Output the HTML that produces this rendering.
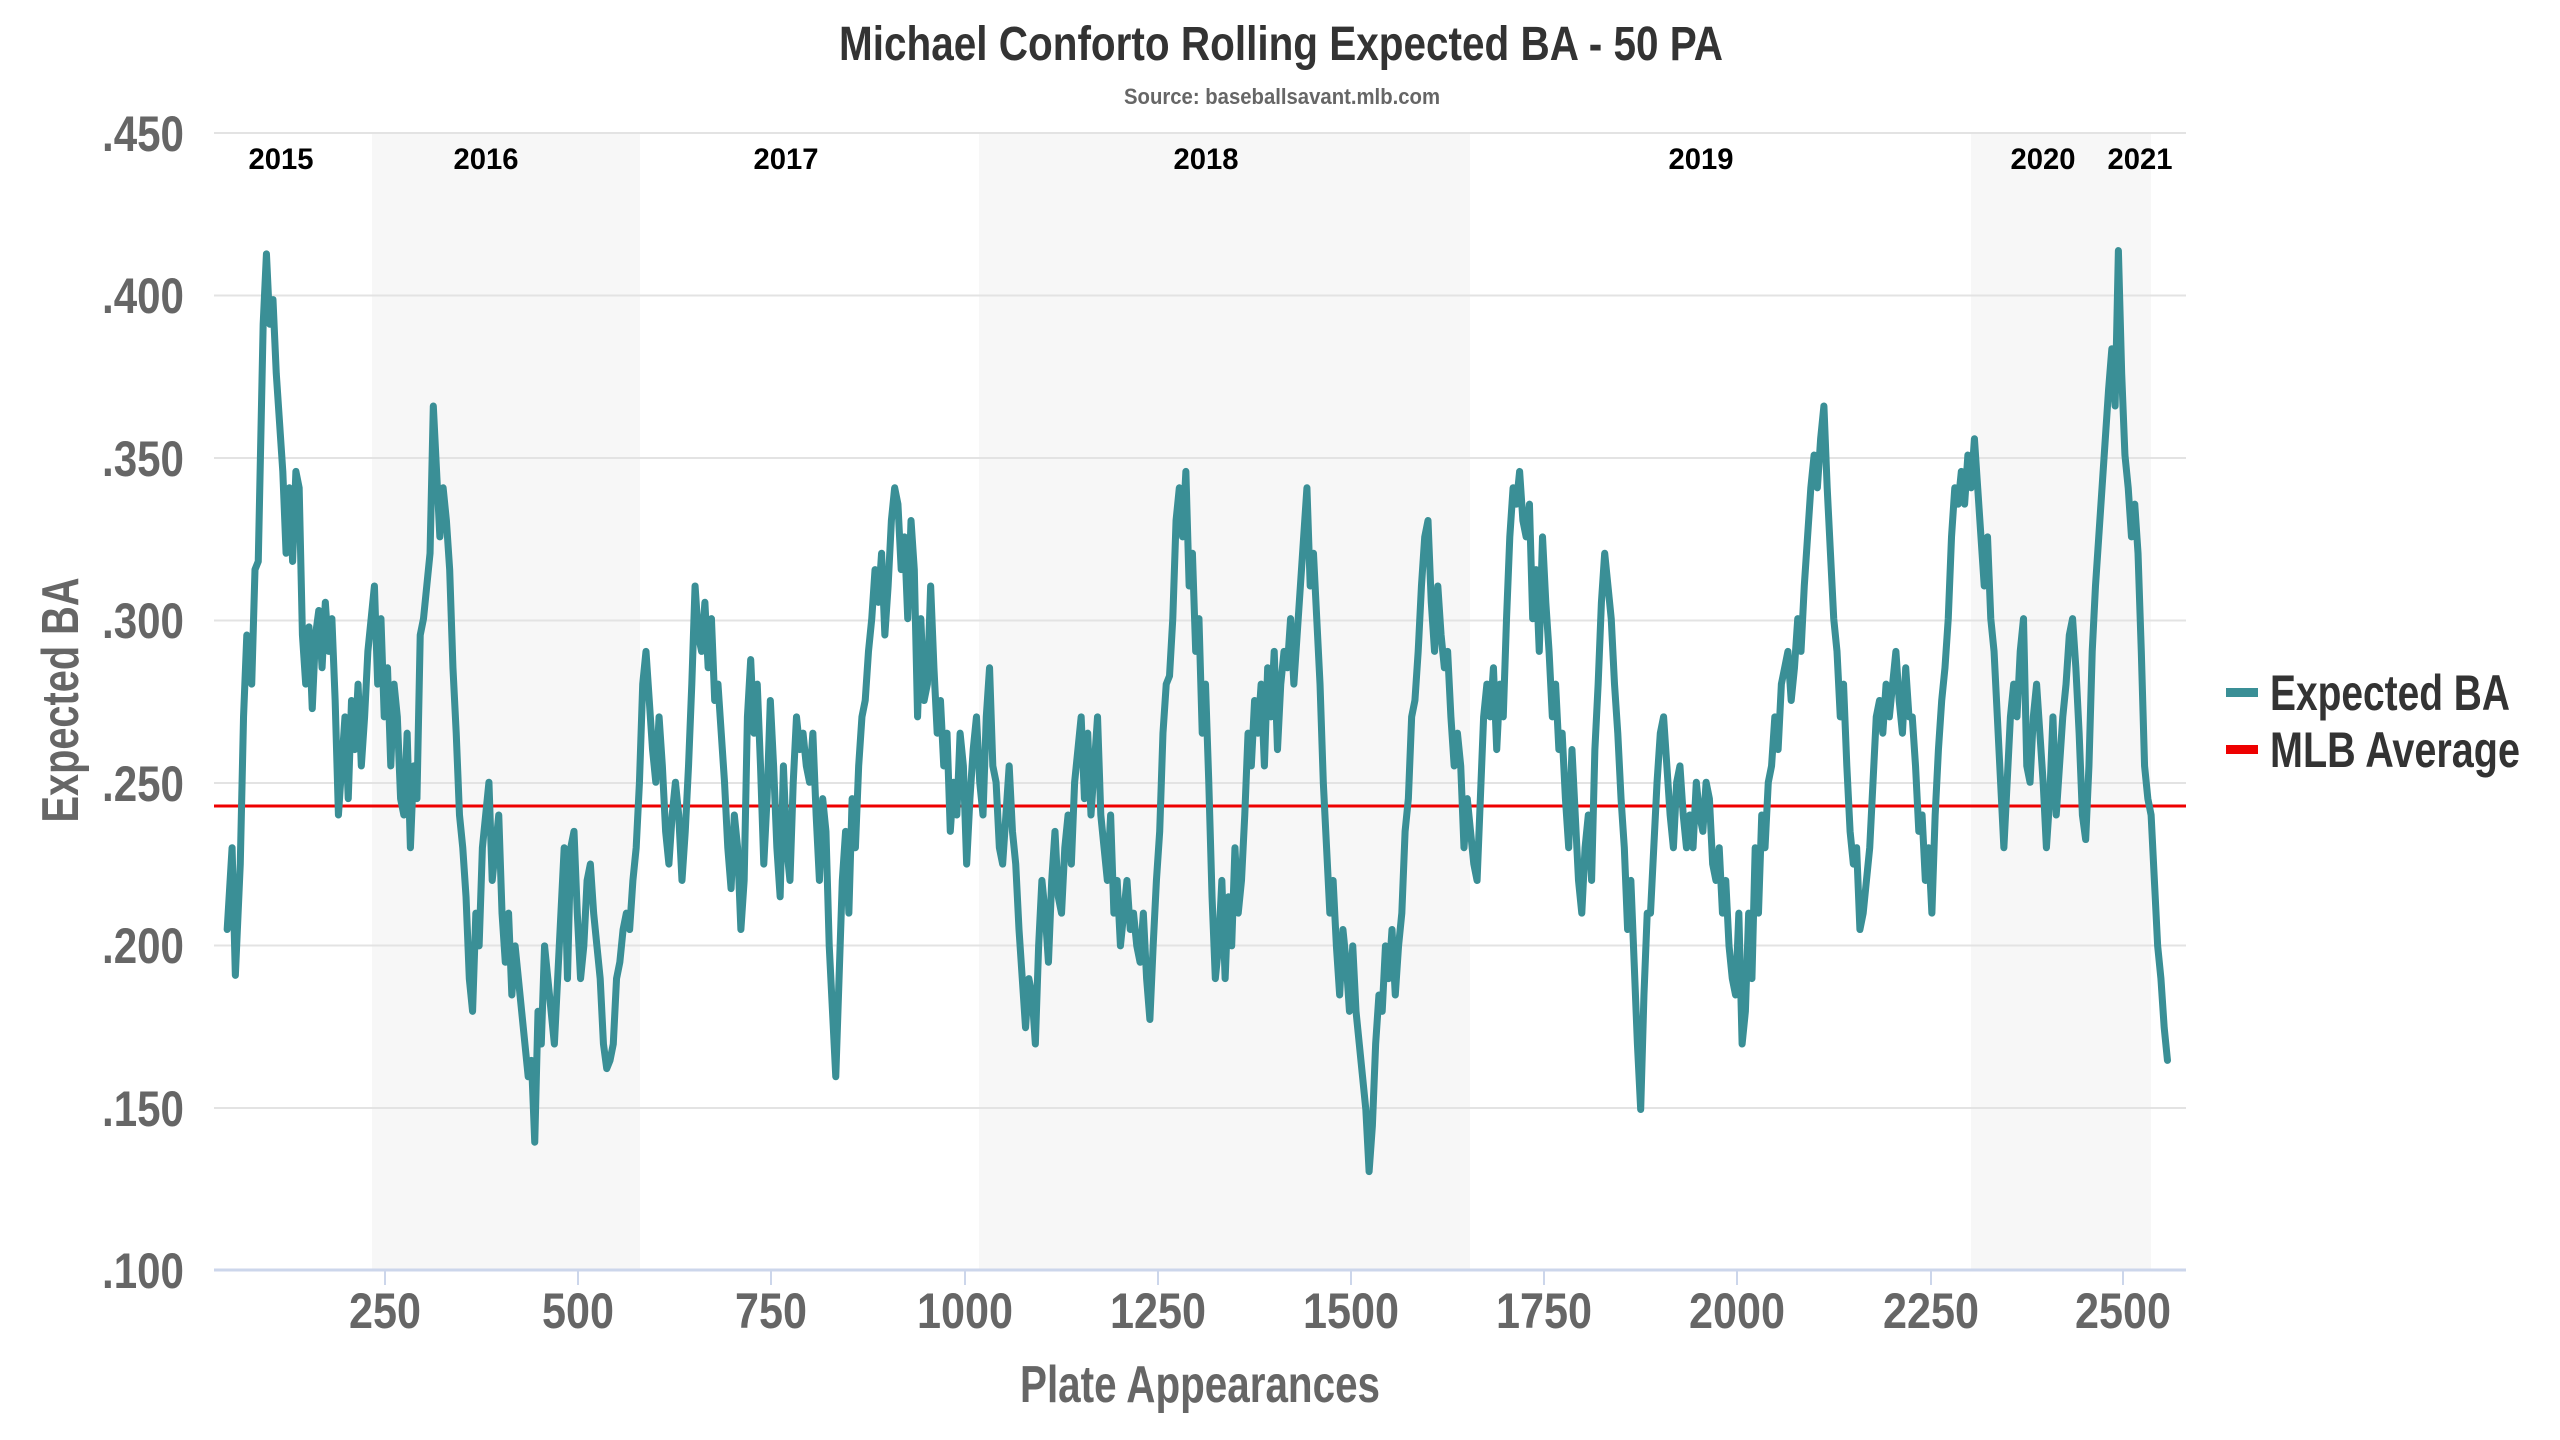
<!DOCTYPE html>
<html><head><meta charset="utf-8"><style>
html,body{margin:0;padding:0;background:#fff;}
svg{display:block;font-family:"Liberation Sans Narrow","Liberation Sans",sans-serif;font-weight:bold;}
</style></head><body>
<svg width="2560" height="1440" viewBox="0 0 2560 1440" xmlns="http://www.w3.org/2000/svg">
<rect width="2560" height="1440" fill="#fff"/>
<rect x="372" y="133" width="268" height="1137" fill="#f7f7f7"/>
<rect x="979" y="133" width="491" height="1137" fill="#f7f7f7"/>
<rect x="1971" y="133" width="180" height="1137" fill="#f7f7f7"/>
<g stroke="#e3e3e3" stroke-width="2">
<line x1="214" x2="2186" y1="133" y2="133"/>
<line x1="214" x2="2186" y1="295.5" y2="295.5"/>
<line x1="214" x2="2186" y1="458" y2="458"/>
<line x1="214" x2="2186" y1="620.5" y2="620.5"/>
<line x1="214" x2="2186" y1="783" y2="783"/>
<line x1="214" x2="2186" y1="945.5" y2="945.5"/>
<line x1="214" x2="2186" y1="1108" y2="1108"/>
</g>
<line x1="214" x2="2186" y1="1270" y2="1270" stroke="#ccd6eb" stroke-width="3"/>
<g stroke="#ccd6eb" stroke-width="2">
<line x1="385" x2="385" y1="1270" y2="1285"/><line x1="578" x2="578" y1="1270" y2="1285"/>
<line x1="771" x2="771" y1="1270" y2="1285"/><line x1="965" x2="965" y1="1270" y2="1285"/>
<line x1="1158" x2="1158" y1="1270" y2="1285"/><line x1="1351" x2="1351" y1="1270" y2="1285"/>
<line x1="1544" x2="1544" y1="1270" y2="1285"/><line x1="1737" x2="1737" y1="1270" y2="1285"/>
<line x1="1931" x2="1931" y1="1270" y2="1285"/><line x1="2123" x2="2123" y1="1270" y2="1285"/>
</g>
<g fill="#666" font-size="50" text-anchor="end">
<text x="184" y="151" textLength="82" lengthAdjust="spacingAndGlyphs">.450</text>
<text x="184" y="313" textLength="82" lengthAdjust="spacingAndGlyphs">.400</text>
<text x="184" y="476" textLength="82" lengthAdjust="spacingAndGlyphs">.350</text>
<text x="184" y="638" textLength="82" lengthAdjust="spacingAndGlyphs">.300</text>
<text x="184" y="801" textLength="82" lengthAdjust="spacingAndGlyphs">.250</text>
<text x="184" y="963" textLength="82" lengthAdjust="spacingAndGlyphs">.200</text>
<text x="184" y="1126" textLength="82" lengthAdjust="spacingAndGlyphs">.150</text>
<text x="184" y="1288" textLength="82" lengthAdjust="spacingAndGlyphs">.100</text>
</g>
<g fill="#666" font-size="50" text-anchor="middle">
<text x="385" y="1328" textLength="72" lengthAdjust="spacingAndGlyphs">250</text>
<text x="578" y="1328" textLength="72" lengthAdjust="spacingAndGlyphs">500</text>
<text x="771" y="1328" textLength="72" lengthAdjust="spacingAndGlyphs">750</text>
<text x="965" y="1328" textLength="96" lengthAdjust="spacingAndGlyphs">1000</text>
<text x="1158" y="1328" textLength="96" lengthAdjust="spacingAndGlyphs">1250</text>
<text x="1351" y="1328" textLength="96" lengthAdjust="spacingAndGlyphs">1500</text>
<text x="1544" y="1328" textLength="96" lengthAdjust="spacingAndGlyphs">1750</text>
<text x="1737" y="1328" textLength="96" lengthAdjust="spacingAndGlyphs">2000</text>
<text x="1931" y="1328" textLength="96" lengthAdjust="spacingAndGlyphs">2250</text>
<text x="2123" y="1328" textLength="96" lengthAdjust="spacingAndGlyphs">2500</text>
</g>
<text x="1200" y="1402" fill="#666" font-size="52" text-anchor="middle" textLength="360" lengthAdjust="spacingAndGlyphs">Plate Appearances</text>
<text transform="translate(78,700) rotate(-90)" fill="#666" font-size="52" text-anchor="middle" textLength="245" lengthAdjust="spacingAndGlyphs">Expected BA</text>
<text x="1281" y="60" fill="#333" font-size="48" text-anchor="middle" textLength="884" lengthAdjust="spacingAndGlyphs">Michael Conforto Rolling Expected BA - 50 PA</text>
<text x="1282" y="104" fill="#666" font-size="22" text-anchor="middle" textLength="316" lengthAdjust="spacingAndGlyphs">Source: baseballsavant.mlb.com</text>
<g fill="#000" font-size="30" text-anchor="middle">
<text x="281" y="169" textLength="65" lengthAdjust="spacingAndGlyphs">2015</text>
<text x="486" y="169" textLength="65" lengthAdjust="spacingAndGlyphs">2016</text>
<text x="786" y="169" textLength="65" lengthAdjust="spacingAndGlyphs">2017</text>
<text x="1206" y="169" textLength="65" lengthAdjust="spacingAndGlyphs">2018</text>
<text x="1701" y="169" textLength="65" lengthAdjust="spacingAndGlyphs">2019</text>
<text x="2043" y="169" textLength="65" lengthAdjust="spacingAndGlyphs">2020</text>
<text x="2140" y="169" textLength="65" lengthAdjust="spacingAndGlyphs">2021</text>
</g>
<line x1="214" x2="2186" y1="806" y2="806" stroke="#e00" stroke-width="3"/>
<g transform="translate(-3.5,-3) scale(1.636)">
<polyline fill="none" stroke="#3a8f96" stroke-width="4.3" stroke-linejoin="round" stroke-linecap="round" points="141,570 144,520 146,598 149,530 151,440 153,390 156,420 158,350 160,345 163,200 165,157 167,200 169,185 171,230 173,260 175,290 177,340 179,300 181,345 183,290 185,300 187,390 189,420 191,385 193,435 195,390 197,375 199,410 201,370 203,400 205,380 207,430 209,500 211,470 213,440 215,490 217,430 219,460 221,420 223,470 225,440 227,400 229,380 231,360 233,420 235,380 237,440 239,410 241,470 243,420 245,440 247,490 249,500 251,450 253,520 255,470 257,490 259,390 261,380 263,360 265,340 267,250 269,290 271,330 273,300 275,320 277,350 279,410 281,450 283,500 285,520 287,550 289,600 291,620 293,560 295,580 297,520 299,500 301,480 303,540 305,520 307,500 309,560 311,590 313,560 315,610 317,580 319,600 321,620 323,640 325,660 327,650 329,700 331,620 333,640 335,580 337,600 339,620 341,640 343,600 345,560 347,520 349,600 351,520 353,510 355,560 357,600 359,580 361,540 363,530 365,560 367,580 369,600 371,640 373,655 375,650 377,640 379,600 381,590 383,570 385,560 387,570 389,540 391,520 393,480 395,420 397,400 399,430 401,460 403,480 405,440 407,470 409,510 411,530 413,500 415,480 417,500 419,540 421,510 423,470 425,420 427,360 429,390 431,400 433,370 435,410 437,380 439,430 441,420 443,450 445,480 447,520 449,545 451,500 453,520 455,570 457,540 459,440 461,405 463,450 465,420 467,470 469,530 471,490 473,430 475,470 477,520 479,550 481,470 483,520 485,540 487,480 489,440 491,460 493,450 495,470 497,480 499,450 501,500 503,540 505,490 507,510 509,580 511,620 513,660 515,600 517,540 519,510 521,560 523,490 525,520 527,470 529,440 531,430 533,400 535,380 537,350 539,370 541,340 543,390 545,360 547,320 549,300 551,310 553,350 555,330 557,380 559,320 561,350 563,440 565,380 567,430 569,420 571,360 573,410 575,450 577,430 579,470 581,450 583,510 585,480 587,500 589,450 591,470 593,530 595,490 597,460 599,440 601,480 603,500 605,440 607,410 609,470 611,480 613,520 615,530 617,500 619,470 621,510 623,530 625,570 627,600 629,630 631,600 633,610 635,640 637,580 639,540 641,560 643,590 645,540 647,510 649,550 651,560 653,520 655,500 657,530 659,480 661,460 663,440 665,490 667,450 669,500 671,470 673,440 675,500 677,520 679,540 681,500 683,560 685,540 687,580 689,560 691,540 693,570 695,560 697,580 699,590 701,560 703,600 705,625 707,580 709,540 711,510 713,450 715,420 717,415 719,380 721,320 723,300 725,330 727,290 729,360 731,340 733,400 735,380 737,450 739,420 741,480 743,550 745,600 747,580 749,540 751,600 753,550 755,580 757,520 759,560 761,540 763,500 765,450 767,470 769,430 771,450 773,420 775,470 777,410 779,440 781,400 783,460 785,420 787,400 789,410 791,380 793,420 795,390 797,360 799,330 801,300 803,360 805,340 807,380 809,420 811,480 813,520 815,560 817,540 819,580 821,610 823,570 825,590 827,620 829,580 831,620 833,640 835,660 837,680 839,718 841,690 843,640 845,610 847,620 849,580 851,600 853,570 855,610 857,580 859,560 861,510 863,490 865,440 867,430 869,400 871,360 873,330 875,320 877,370 879,400 881,360 883,390 885,410 887,400 889,440 891,470 893,450 895,470 897,520 899,490 901,510 903,530 905,540 907,490 909,440 911,420 913,440 915,410 917,460 919,420 921,440 923,380 925,330 927,300 929,310 931,290 933,320 935,330 937,310 939,380 941,350 943,400 945,330 947,370 949,400 951,440 953,420 955,460 957,450 959,490 961,520 963,460 965,500 967,540 969,560 971,520 973,500 975,540 977,460 979,420 981,370 983,340 985,360 987,380 989,420 991,450 993,490 995,520 997,570 999,540 1001,590 1003,640 1005,680 1007,610 1009,560 1011,560 1013,520 1015,480 1017,450 1019,440 1021,470 1023,500 1025,520 1027,480 1029,470 1031,500 1033,520 1035,500 1037,520 1039,480 1041,500 1043,510 1045,480 1047,490 1049,530 1051,540 1053,520 1055,560 1057,540 1059,580 1061,600 1063,610 1065,560 1067,640 1069,620 1071,560 1073,600 1075,520 1077,560 1079,500 1081,520 1083,480 1085,470 1087,440 1089,460 1091,420 1093,410 1095,400 1097,430 1099,410 1101,380 1103,400 1105,360 1107,330 1109,300 1111,280 1113,300 1115,270 1117,250 1119,300 1121,340 1123,380 1125,400 1127,440 1129,420 1131,470 1133,510 1135,530 1137,520 1139,570 1141,560 1143,540 1145,520 1147,480 1149,440 1151,430 1153,450 1155,420 1157,440 1159,420 1161,400 1163,430 1165,450 1167,410 1169,440 1171,440 1173,470 1175,510 1177,500 1179,540 1181,520 1183,560 1185,500 1187,460 1189,430 1191,410 1193,380 1195,330 1197,300 1199,310 1201,290 1203,310 1205,280 1207,300 1209,270 1211,300 1213,330 1215,360 1217,330 1219,380 1221,400 1223,440 1225,480 1227,520 1229,480 1231,440 1233,420 1235,440 1237,400 1239,380 1241,470 1243,480 1245,440 1247,420 1249,450 1251,480 1253,520 1255,490 1257,440 1259,500 1261,470 1263,440 1265,420 1267,390 1269,380 1271,410 1273,450 1275,500 1277,515 1279,470 1281,400 1283,360 1285,330 1287,300 1289,270 1291,240 1293,215 1295,250 1297,155 1299,230 1301,280 1303,300 1305,330 1307,310 1309,340 1311,400 1313,470 1315,490 1317,500 1319,540 1321,580 1323,600 1325,630 1327,650"/>
</g>
<rect x="2226" y="688" width="32" height="9" fill="#3a8f96"/>
<rect x="2226" y="745" width="32" height="9" fill="#e00"/>
<g fill="#333" font-size="50">
<text x="2270" y="710" textLength="240" lengthAdjust="spacingAndGlyphs">Expected BA</text>
<text x="2270" y="767" textLength="250" lengthAdjust="spacingAndGlyphs">MLB Average</text>
</g>
</svg>
</body></html>
